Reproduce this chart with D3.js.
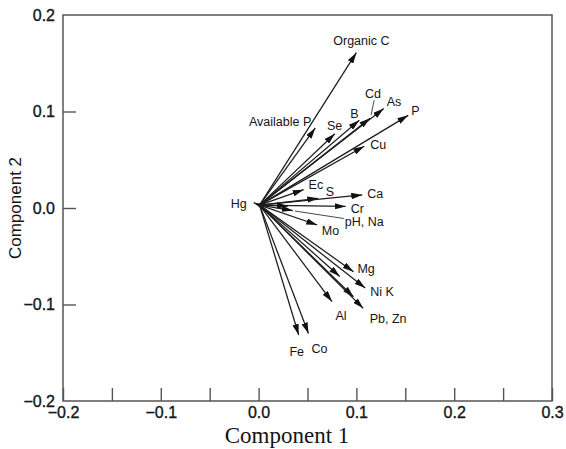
<!DOCTYPE html>
<html>
<head>
<meta charset="utf-8">
<script src="https://cdn.jsdelivr.net/npm/d3@7"></script>
<style>
  html, body { margin: 0; padding: 0; background: #fff; }
  svg { display: block; }
  .lbl { font-family: "Liberation Sans", Arial, sans-serif; font-size: 12.5px; fill: #151515; }
  .tick-label { font-family: "Liberation Sans", Arial, sans-serif; font-size: 16px; fill: #151515;
                stroke: #151515; stroke-width: 0.35px; }
</style>
</head>
<body>
<svg id="chart" width="566" height="449"></svg>
<script>
// PCA loadings: tip coordinates of each variable vector (Component 1, Component 2)
const variables  = ["Hg", "Organic C", "Available P", "Se", "B", "Cd", "As", "P", "Cu",
                    "Ec", "S", "Ca", "Cr", "pH", "Na", "Mo", "Mg", "K", "Ni", "Al",
                    "Pb", "Zn", "Fe", "Co"];
const component1 = [-0.005, 0.100, 0.058, 0.078, 0.103, 0.114, 0.128, 0.153, 0.108,
                     0.046, 0.061, 0.106, 0.089, 0.030, 0.035, 0.060, 0.097, 0.083, 0.109, 0.075,
                     0.097, 0.107, 0.041, 0.051];
const component2 = [ 0.0055, 0.161, 0.083, 0.077, 0.091, 0.093, 0.103, 0.096, 0.064,
                     0.019, 0.010, 0.0135, 0.0016, 0.002, -0.0026, -0.0176, -0.066, -0.071, -0.083, -0.097,
                    -0.092, -0.104, -0.1316, -0.130];
// common base point of all vectors
const origin = [0.001, 0.003];

// axis ticks
const xTicks      = [-0.2, -0.15, -0.1, -0.05, 0.0, 0.05, 0.1, 0.15, 0.2, 0.25, 0.3];
const xTickLabels = ["\u22120.2", "", "\u22120.1", "", "0.0", "", "0.1", "", "0.2", "", "0.3"];
const yTicks      = [-0.2, -0.1, 0.0, 0.1, 0.2];
const yTickLabels = ["\u22120.2", "\u22120.1", "0.0", "0.1", "0.2"];

// text labels and the vector each one is attached to
const labelTexts  = ["Hg", "Organic C", "Available P", "Se", "B", "Cd", "As", "P", "Cu",
                     "Ec", "S", "Ca", "Cr", "pH, Na", "Mo", "Mg", "Ni K", "Al", "Pb, Zn", "Fe", "Co"];
const labelTarget = ["Hg", "Organic C", "Available P", "Se", "B", "Cd", "As", "P", "Cu",
                     "Ec", "S", "Ca", "Cr", "Na", "Mo", "Mg", "Ni", "Al", "Zn", "Fe", "Co"];

// label placement relative to the arrow tip (px): dx, dy, anchor
const labelPlacement = {
  "Hg": [-7, 5.5, "end"],
  "Organic C": [5, -8, "middle"],
  "Available P": [-4, -1.5, "end"],
  "Se": [-8, -3.5, "start"],
  "B": [-9, -2, "start"],
  "Cd": [-5, -20, "start"],
  "As": [3, -2.5, "start"],
  "P": [3, -0.5, "start"],
  "Cu": [6, 3, "start"],
  "Ec": [5, -1, "start"],
  "S": [7.5, -2, "start"],
  "Ca": [5, 3.5, "start"],
  "Cr": [5, 6.5, "start"],
  "pH, Na": [52, 15.5, "start"],
  "Mo": [4.5, 10, "start"],
  "Mg": [4, 1.5, "start"],
  "Ni K": [5, 7.5, "start"],
  "Al": [3.5, 18.5, "start"],
  "Pb, Zn": [6.5, 14.5, "start"],
  "Fe": [-2, 21, "middle"],
  "Co": [3, 19.5, "start"]
};
// labels joined to their arrow by a thin leader line: [x1, y1, x2, y2] offsets from the tip
const leaders = {
  "Cd": [1, -3, 4, -18],
  "pH, Na": [2, 0.5, 51, 8]
};

const svg = d3.select("#chart");
const frame = { left: 63, right: 552, top: 15, bottom: 401 };

const x = d3.scaleLinear().domain([-0.2, 0.3]).range([frame.left, frame.right]);
const y = d3.scaleLinear().domain([-0.2, 0.2]).range([frame.bottom, frame.top]);

const axisColor = "#555";

// bottom axis: inward ticks every 0.05
const xAxis = d3.axisBottom(x)
  .tickValues(xTicks)
  .tickSizeInner(-13)
  .tickSizeOuter(0)
  .tickPadding(6)
  .tickFormat((d, i) => xTickLabels[i]);
const gx = svg.append("g").attr("transform", `translate(0,${frame.bottom})`).call(xAxis);
gx.select(".domain").remove();
gx.selectAll(".tick line").attr("stroke", axisColor).attr("stroke-width", 1.4);
gx.selectAll(".tick text").attr("class", "tick-label");

// left axis: inward ticks at the labelled values
const yAxis = d3.axisLeft(y)
  .tickValues(yTicks)
  .tickSizeInner(-13)
  .tickSizeOuter(0)
  .tickPadding(8)
  .tickFormat((d, i) => yTickLabels[i]);
const gy = svg.append("g").attr("transform", `translate(${frame.left},0)`).call(yAxis);
gy.select(".domain").remove();
gy.selectAll(".tick line").attr("stroke", axisColor).attr("stroke-width", 1.4)
  .attr("display", d => (d === 0.2 || d === -0.2) ? "none" : null);
gy.selectAll(".tick text").attr("class", "tick-label").attr("x", -8);

// plot frame
svg.append("rect")
  .attr("x", frame.left).attr("y", frame.top)
  .attr("width", frame.right - frame.left).attr("height", frame.bottom - frame.top)
  .attr("fill", "none").attr("stroke", axisColor).attr("stroke-width", 1.5);

// axis titles
svg.append("text")
  .attr("x", 287).attr("y", 443)
  .attr("text-anchor", "middle")
  .attr("font-family", "'Liberation Serif', 'Times New Roman', serif")
  .attr("font-size", 23).attr("fill", "#151515")
  .text("Component 1");
svg.append("text")
  .attr("transform", `translate(21,${(frame.top + frame.bottom) / 2}) rotate(-90)`)
  .attr("text-anchor", "middle")
  .attr("font-family", "'Liberation Sans', Arial, sans-serif")
  .attr("font-size", 17).attr("fill", "#151515")
  .text("Component 2");

// arrowhead
svg.append("defs").append("marker")
  .attr("id", "head")
  .attr("viewBox", "0 0 11 6.4")
  .attr("refX", 11).attr("refY", 3.2)
  .attr("markerWidth", 11).attr("markerHeight", 6.4)
  .attr("markerUnits", "userSpaceOnUse")
  .attr("orient", "auto")
  .append("path").attr("d", "M0,0 L11,3.2 L0,6.4 Z").attr("fill", "#111");

const vectors = variables.map((v, i) => ({ name: v, c1: component1[i], c2: component2[i] }));
const tip = {};
vectors.forEach(d => { tip[d.name] = [x(d.c1), y(d.c2)]; });

svg.append("g").selectAll("line.vec")
  .data(vectors)
  .join("line")
  .attr("class", "vec")
  .attr("x1", x(origin[0])).attr("y1", y(origin[1]))
  .attr("x2", d => x(d.c1)).attr("y2", d => y(d.c2))
  .attr("stroke", "#1c1c1c").attr("stroke-width", 1.25)
  .attr("marker-end", "url(#head)");

// leader lines
Object.entries(leaders).forEach(([label, o]) => {
  const target = labelTarget[labelTexts.indexOf(label)];
  const [tx, ty] = tip[target];
  svg.append("line")
    .attr("x1", tx + o[0]).attr("y1", ty + o[1])
    .attr("x2", tx + o[2]).attr("y2", ty + o[3])
    .attr("stroke", "#333").attr("stroke-width", 0.9);
});

// variable labels
svg.append("g").selectAll("text")
  .data(labelTexts.map((t, i) => ({ text: t, target: labelTarget[i] })))
  .join("text")
  .attr("class", "lbl")
  .attr("x", d => tip[d.target][0] + labelPlacement[d.text][0])
  .attr("y", d => tip[d.target][1] + labelPlacement[d.text][1])
  .attr("text-anchor", d => labelPlacement[d.text][2])
  .text(d => d.text);
</script>
</body>
</html>
